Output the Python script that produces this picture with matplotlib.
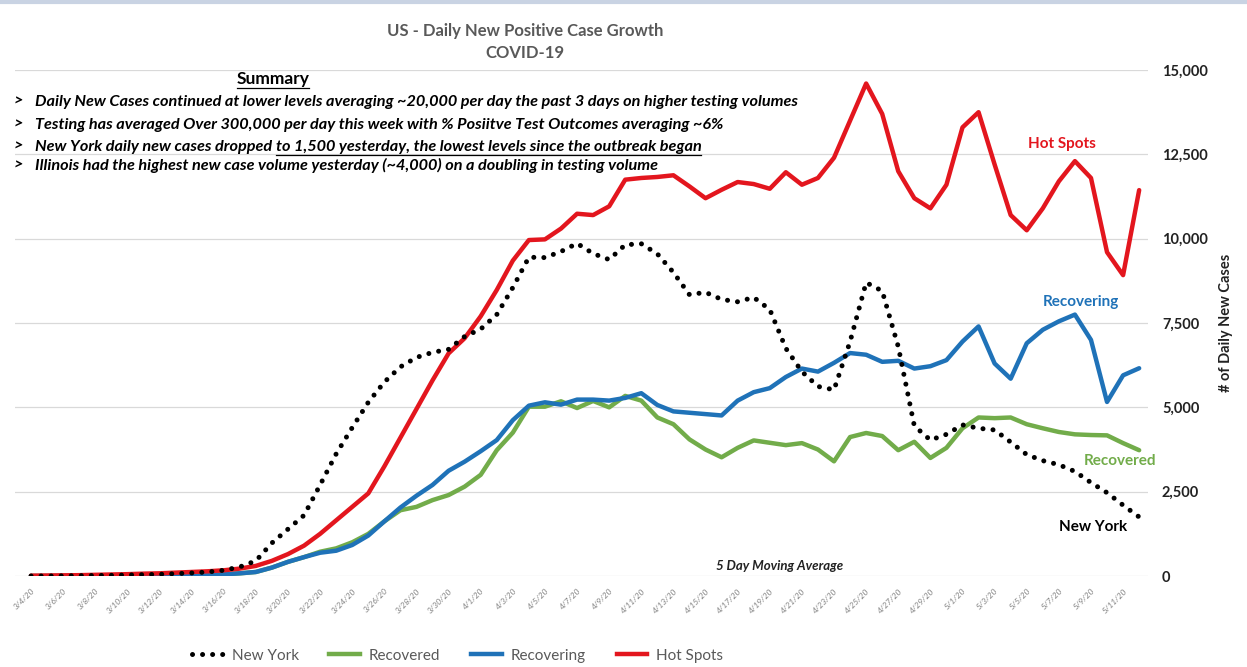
import numpy as np
import pandas as pd
import matplotlib
matplotlib.use("Agg")
import matplotlib.pyplot as plt
from matplotlib.lines import Line2D

plt.rcParams['font.family'] = ['Lato', 'DejaVu Sans']

# daily dates shown on the category axis (3/4/20 .. 5/12/20)
dates = pd.date_range("2020-03-04", "2020-05-12", freq="D")
date_labels = [f"{d.month}/{d.day}/20" for d in dates]

# 5 day moving averages
new_york = [0, 0, 5, 10, 15, 20, 30, 40, 50, 70,
            90, 120, 170, 270, 450, 980, 1390, 1800, 2700, 3620,
            4400, 5150, 5750, 6200, 6480, 6630, 6720, 7100, 7320, 7750,
            8550, 9450, 9440, 9620, 9860, 9560, 9380, 9820, 9850, 9550,
            9000, 8340, 8410, 8200, 8130, 8260, 7900, 6750, 6060, 5620,
            5520, 6950, 8700, 8450, 6800, 4450, 4030, 4200, 4480, 4380,
            4330, 3970, 3600, 3420, 3300, 3100, 2770, 2470, 2100, 1750]

recovered = [0, 0, 2, 4, 6, 8, 10, 12, 15, 20,
             25, 35, 50, 80, 120, 250, 420, 560, 720, 820,
             1000, 1250, 1620, 1950, 2050, 2250, 2400, 2650, 3000, 3730,
             4250, 5020, 5020, 5180, 4980, 5190, 5000, 5340, 5200, 4700,
             4500, 4050, 3750, 3520, 3800, 4020, 3950, 3880, 3940, 3750,
             3400, 4120, 4240, 4150, 3730, 3980, 3500, 3800, 4380, 4700,
             4680, 4700, 4500, 4380, 4270, 4200, 4180, 4170, 3940, 3730]

recovering = [0, 0, 2, 4, 6, 8, 10, 12, 15, 20,
              25, 35, 50, 80, 120, 250, 420, 560, 690, 750,
              920, 1200, 1620, 2030, 2380, 2700, 3120, 3390, 3700, 4030,
              4620, 5050, 5150, 5080, 5230, 5230, 5200, 5280, 5420, 5070,
              4880, 4840, 4800, 4760, 5200, 5450, 5570, 5900, 6150, 6060,
              6320, 6610, 6560, 6350, 6380, 6150, 6220, 6400, 6950, 7400,
              6300, 5850, 6900, 7300, 7550, 7750, 7000, 5160, 5950, 6160]

hot_spots = [10, 15, 20, 25, 35, 45, 55, 70, 80, 100,
             120, 140, 170, 220, 300, 450, 650, 900, 1250, 1650,
             2050, 2450, 3250, 4100, 4950, 5800, 6600, 7050, 7700, 8480,
             9350, 9960, 9980, 10300, 10740, 10700, 10960, 11750, 11800, 11830,
             11880, 11550, 11200, 11450, 11680, 11620, 11480, 11970, 11600, 11800,
             12400, 13500, 14600, 13700, 12000, 11200, 10900, 11600, 13300, 13750,
             12200, 10700, 10250, 10900, 11700, 12300, 11800, 9600, 8920, 11440]

yticks = [0, 2500, 5000, 7500, 10000, 12500, 15000]

summary_lines = [
    "Daily New Cases continued at lower levels averaging ~20,000 per day the past 3 days on higher testing volumes",
    "Testing has averaged Over 300,000 per day this week with % Posiitve Test Outcomes averaging ~6%",
    None,
    "Illinois had the highest new case volume yesterday (~4,000) on a doubling in testing volume",
]
ny_line_plain = "New York daily new cases dropped "
ny_line_under = "to 1,500 yesterday, the lowest levels since the outbreak began"

RED = "#E3161E"
BLUE = "#1F72B8"
GREEN = "#72AC4A"
GRAY = "#595959"

fig = plt.figure(figsize=(12.47, 6.67), dpi=100)
ax = fig.add_axes([0.012, 0.1364, 0.9086, 0.7586])

x = np.arange(len(dates))
ax.plot(x, recovered, color=GREEN, lw=3.2, solid_capstyle="round",
        solid_joinstyle="round", zorder=3)
ax.plot(x, recovering, color=BLUE, lw=3.2, solid_capstyle="round",
        solid_joinstyle="round", zorder=4)
ax.plot(x, hot_spots, color=RED, lw=3.2, solid_capstyle="round",
        solid_joinstyle="round", zorder=5)
ax.plot(x, new_york, color="black", lw=3.6, linestyle=(0, (0.01, 2.0)),
        dash_capstyle="round", zorder=6)

ax.set_xlim(-1.0, 69.55)
ax.set_ylim(0, 15000)
ax.set_yticks(yticks)
ax.yaxis.tick_right()
ax.yaxis.set_label_position("right")
ax.set_yticklabels([f"{v:,}" for v in yticks], fontsize=10.5, fontweight="bold",
                   color="#222222")
ax.tick_params(axis="y", length=0, pad=10)
ax.set_ylabel("# of Daily New Cases", fontsize=10.5, fontweight="bold",
              color="#222222", labelpad=8)

ax.set_xticks(x[::2])
ax.set_xticklabels(date_labels[::2], rotation=45, ha="right",
                   rotation_mode="anchor", fontsize=6, color="#7f7f7f",
                   fontstyle="italic")
ax.tick_params(axis="x", length=0, pad=8)

ax.grid(axis="y", color="#d9d9d9", lw=0.9)
ax.set_axisbelow(True)
for s in ax.spines.values():
    s.set_visible(False)

# series labels
ax.text(64.2, 12800, "Hot Spots", color=RED, fontsize=11, fontweight="bold",
        ha="center", va="center")
ax.text(65.4, 8120, "Recovering", color=BLUE, fontsize=11, fontweight="bold",
        ha="center", va="center")
ax.text(67.8, 3410, "Recovered", color=GREEN, fontsize=11, fontweight="bold",
        ha="center", va="center")
ax.text(66.1, 1450, "New York", color="black", fontsize=11, fontweight="bold",
        ha="center", va="center")
ax.text(46.6, 310, "5 Day Moving Average", color="#222222", fontsize=9.5,
        fontweight="bold", fontstyle="italic", ha="center", va="center")

# title
fig.text(0.421, 0.953, "US - Daily New Positive Case Growth", color=GRAY,
         fontsize=12, fontweight="bold", ha="center", va="center")
fig.text(0.421, 0.920, "COVID-19", color=GRAY, fontsize=12, fontweight="bold",
         ha="center", va="center")

# light band at the very top
fig.add_artist(Line2D([0, 1], [0.997, 0.997], color="#c9d3e3", lw=3,
                      transform=fig.transFigure))

# summary block
W, H = 1247, 667
txt_kw = dict(fontsize=11.7, fontweight="bold", fontstyle="italic",
              color="black", va="baseline")
fig.canvas.draw()
renderer = fig.canvas.get_renderer()


def underline(t, lw=0.9):
    bb = t.get_window_extent(renderer=renderer)
    y0 = bb.y0 - 1
    fig.add_artist(Line2D([bb.x0 / W, bb.x1 / W], [y0 / H, y0 / H],
                          color="black", lw=lw, transform=fig.transFigure))


summ = fig.text(273 / W, 1 - 84 / H, "Summary", fontsize=12.5, fontweight="bold",
                color="black", ha="center", va="baseline")
underline(summ)

baselines = [106, 129, 151, 170]
for i, by in enumerate(baselines):
    yf = 1 - by / H
    fig.text(14 / W, yf, ">", **txt_kw)
    if summary_lines[i] is not None:
        fig.text(35 / W, yf, summary_lines[i], **txt_kw)
    else:
        t1 = fig.text(35 / W, yf, ny_line_plain, **txt_kw)
        bb = t1.get_window_extent(renderer=renderer)
        t2 = fig.text(bb.x1 / W, yf, ny_line_under, **txt_kw)
        underline(t2)

# legend
handles = [
    Line2D([], [], color="black", lw=3.6, linestyle=(0, (0.01, 2.0)),
           dash_capstyle="round"),
    Line2D([], [], color=GREEN, lw=3.2),
    Line2D([], [], color=BLUE, lw=3.2),
    Line2D([], [], color=RED, lw=3.2),
]
fig.legend(handles, ["New York", "Recovered", "Recovering", "Hot Spots"],
           loc="center", bbox_to_anchor=(0.367, 0.017), ncol=4, frameon=False,
           fontsize=11, labelcolor=GRAY, handlelength=2.0, columnspacing=2.0,
           handletextpad=0.6)

fig.savefig("out.png", dpi=100, facecolor="white")
